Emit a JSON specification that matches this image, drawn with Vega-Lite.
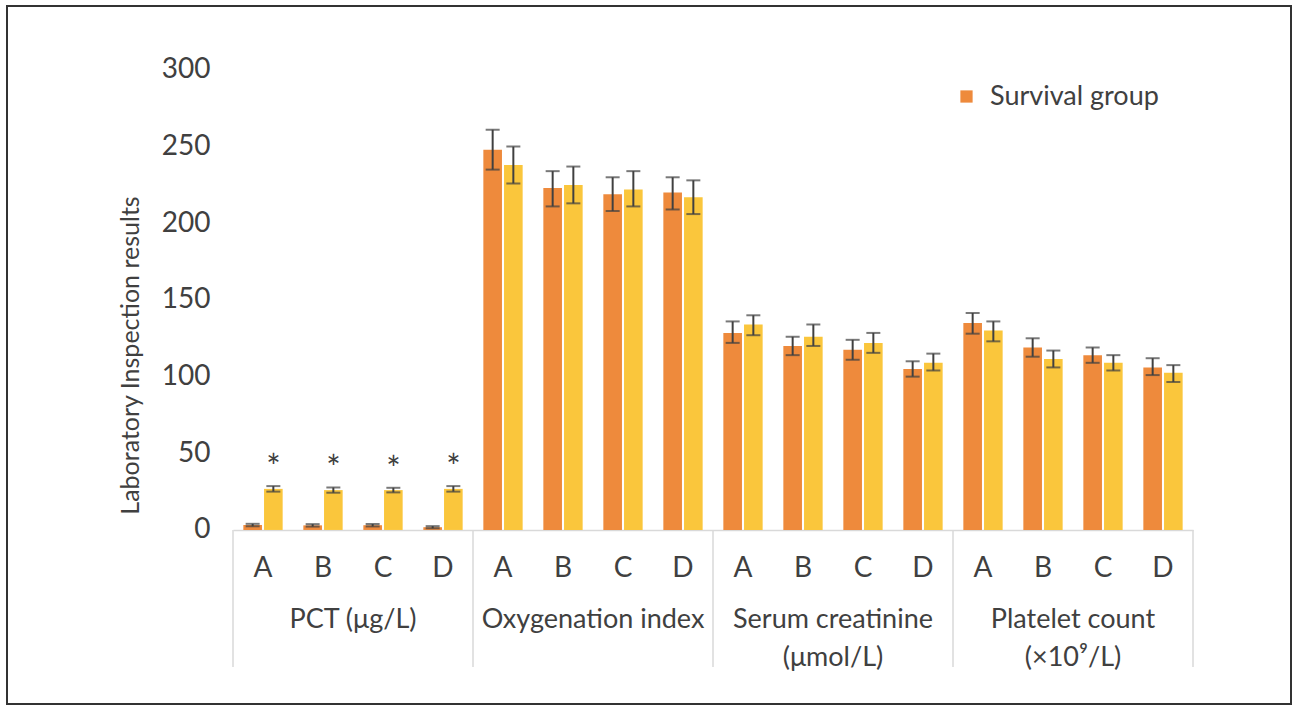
{
  "$schema": "https://vega.github.io/schema/vega-lite/v6.json",
  "width": 1284,
  "height": 698,
  "padding": {"left": 7, "top": 6, "right": 5, "bottom": 6},
  "background": "#ffffff",
  "config": {
    "view": {"stroke": "#333333", "strokeWidth": 2},
    "font": "Lato",
    "axis": {"labelFont": "Lato", "titleFont": "Lato", "labelColor": "#404040", "titleColor": "#404040"}
  },
  "datasets": {
    "bars": [
      {"cat": "PCT (μg/L)", "sub": "A", "slot": "PCT (μg/L)|A", "group": "Survival group", "value": 3.2, "lo": 2.4, "hi": 4.0},
      {"cat": "PCT (μg/L)", "sub": "A", "slot": "PCT (μg/L)|A", "group": "Death group", "value": 26.8, "lo": 25.0, "hi": 28.6},
      {"cat": "PCT (μg/L)", "sub": "B", "slot": "PCT (μg/L)|B", "group": "Survival group", "value": 3.0, "lo": 2.2, "hi": 3.8},
      {"cat": "PCT (μg/L)", "sub": "B", "slot": "PCT (μg/L)|B", "group": "Death group", "value": 26.0, "lo": 24.3, "hi": 27.7},
      {"cat": "PCT (μg/L)", "sub": "C", "slot": "PCT (μg/L)|C", "group": "Survival group", "value": 3.1, "lo": 2.3, "hi": 3.9},
      {"cat": "PCT (μg/L)", "sub": "C", "slot": "PCT (μg/L)|C", "group": "Death group", "value": 26.0, "lo": 24.5, "hi": 27.5},
      {"cat": "PCT (μg/L)", "sub": "D", "slot": "PCT (μg/L)|D", "group": "Survival group", "value": 1.8, "lo": 1.1, "hi": 2.5},
      {"cat": "PCT (μg/L)", "sub": "D", "slot": "PCT (μg/L)|D", "group": "Death group", "value": 26.8, "lo": 25.0, "hi": 28.6},
      {"cat": "Oxygenation index", "sub": "A", "slot": "Oxygenation index|A", "group": "Survival group", "value": 248, "lo": 235, "hi": 261},
      {"cat": "Oxygenation index", "sub": "A", "slot": "Oxygenation index|A", "group": "Death group", "value": 238, "lo": 226, "hi": 250},
      {"cat": "Oxygenation index", "sub": "B", "slot": "Oxygenation index|B", "group": "Survival group", "value": 223, "lo": 211, "hi": 234},
      {"cat": "Oxygenation index", "sub": "B", "slot": "Oxygenation index|B", "group": "Death group", "value": 225, "lo": 213, "hi": 237},
      {"cat": "Oxygenation index", "sub": "C", "slot": "Oxygenation index|C", "group": "Survival group", "value": 219, "lo": 208, "hi": 230},
      {"cat": "Oxygenation index", "sub": "C", "slot": "Oxygenation index|C", "group": "Death group", "value": 222, "lo": 211, "hi": 234},
      {"cat": "Oxygenation index", "sub": "D", "slot": "Oxygenation index|D", "group": "Survival group", "value": 220, "lo": 209, "hi": 230},
      {"cat": "Oxygenation index", "sub": "D", "slot": "Oxygenation index|D", "group": "Death group", "value": 217, "lo": 206, "hi": 228},
      {"cat": "Serum creatinine\n(μmol/L)", "sub": "A", "slot": "Serum creatinine (μmol/L)|A", "group": "Survival group", "value": 128.5, "lo": 122, "hi": 136},
      {"cat": "Serum creatinine\n(μmol/L)", "sub": "A", "slot": "Serum creatinine (μmol/L)|A", "group": "Death group", "value": 134, "lo": 127, "hi": 140},
      {"cat": "Serum creatinine\n(μmol/L)", "sub": "B", "slot": "Serum creatinine (μmol/L)|B", "group": "Survival group", "value": 120, "lo": 114, "hi": 126},
      {"cat": "Serum creatinine\n(μmol/L)", "sub": "B", "slot": "Serum creatinine (μmol/L)|B", "group": "Death group", "value": 126, "lo": 120, "hi": 134},
      {"cat": "Serum creatinine\n(μmol/L)", "sub": "C", "slot": "Serum creatinine (μmol/L)|C", "group": "Survival group", "value": 117.5, "lo": 111, "hi": 124},
      {"cat": "Serum creatinine\n(μmol/L)", "sub": "C", "slot": "Serum creatinine (μmol/L)|C", "group": "Death group", "value": 122, "lo": 115.5, "hi": 128.5},
      {"cat": "Serum creatinine\n(μmol/L)", "sub": "D", "slot": "Serum creatinine (μmol/L)|D", "group": "Survival group", "value": 105, "lo": 100, "hi": 110},
      {"cat": "Serum creatinine\n(μmol/L)", "sub": "D", "slot": "Serum creatinine (μmol/L)|D", "group": "Death group", "value": 109, "lo": 104, "hi": 115},
      {"cat": "Platelet count\n(×10⁹/L)", "sub": "A", "slot": "Platelet count (×10⁹/L)|A", "group": "Survival group", "value": 135, "lo": 128, "hi": 141.5},
      {"cat": "Platelet count\n(×10⁹/L)", "sub": "A", "slot": "Platelet count (×10⁹/L)|A", "group": "Death group", "value": 130, "lo": 123, "hi": 136},
      {"cat": "Platelet count\n(×10⁹/L)", "sub": "B", "slot": "Platelet count (×10⁹/L)|B", "group": "Survival group", "value": 119, "lo": 113, "hi": 125},
      {"cat": "Platelet count\n(×10⁹/L)", "sub": "B", "slot": "Platelet count (×10⁹/L)|B", "group": "Death group", "value": 111.5, "lo": 106, "hi": 117},
      {"cat": "Platelet count\n(×10⁹/L)", "sub": "C", "slot": "Platelet count (×10⁹/L)|C", "group": "Survival group", "value": 114, "lo": 109, "hi": 119},
      {"cat": "Platelet count\n(×10⁹/L)", "sub": "C", "slot": "Platelet count (×10⁹/L)|C", "group": "Death group", "value": 109, "lo": 104, "hi": 114},
      {"cat": "Platelet count\n(×10⁹/L)", "sub": "D", "slot": "Platelet count (×10⁹/L)|D", "group": "Survival group", "value": 106, "lo": 101, "hi": 112},
      {"cat": "Platelet count\n(×10⁹/L)", "sub": "D", "slot": "Platelet count (×10⁹/L)|D", "group": "Death group", "value": 102.5, "lo": 96.5, "hi": 107.5}
    ]
  },
  "data": {"name": "bars"},
  "layer": [
    {
      "mark": {"type": "bar"},
      "encoding": {
        "x": {
          "field": "slot",
          "type": "nominal",
          "sort": null,
          "scale": {"range": [226, 1186], "paddingInner": 0, "paddingOuter": 0},
          "axis": {
            "title": null,
            "orient": "bottom",
            "offset": -174,
            "labelExpr": "split(datum.value, '|')[1]",
            "labelAngle": 0,
            "labelFontSize": 28,
            "labelPadding": 24,
            "ticks": false,
            "domain": true,
            "domainColor": "#d9d9d9",
            "domainWidth": 1.5,
            "grid": false
          }
        },
        "xOffset": {
          "field": "group",
          "type": "nominal",
          "sort": ["Survival group", "Death group"],
          "scale": {"paddingInner": 0.1, "paddingOuter": 0.5}
        },
        "y": {
          "field": "value",
          "type": "quantitative",
          "scale": {"domain": [-113.5, 341.7], "nice": false, "zero": false},
          "axis": {
            "title": "Laboratory Inspection results",
            "titleFontSize": 25,
            "titleFontWeight": "normal",
            "titlePadding": 18,
            "values": [0, 50, 100, 150, 200, 250, 300],
            "labelFontSize": 28,
            "labelPadding": 12,
            "offset": -215,
            "ticks": false,
            "domain": false,
            "grid": false
          }
        },
        "y2": {"datum": 0},
        "color": {
          "field": "group",
          "type": "nominal",
          "scale": {"domain": ["Survival group", "Death group"], "range": ["#EE8A3C", "#FAC63C"]},
          "legend": {
            "values": ["Survival group"],
            "title": null,
            "orient": "none",
            "legendX": 946,
            "legendY": 77,
            "symbolType": "square",
            "symbolSize": 150,
            "symbolStrokeWidth": 0,
            "labelFontSize": 27,
            "labelFont": "Lato",
            "labelColor": "#404040",
            "labelOffset": 10,
            "labelLimit": 400,
            "padding": 0
          }
        }
      }
    },
    {
      "mark": {"type": "rule", "color": "#404040", "strokeWidth": 2},
      "encoding": {
        "x": {"field": "slot", "type": "nominal", "sort": null},
        "xOffset": {"field": "group", "type": "nominal", "sort": ["Survival group", "Death group"]},
        "y": {"field": "lo", "type": "quantitative"},
        "y2": {"field": "hi"}
      }
    },
    {
      "mark": {"type": "tick", "color": "#404040", "thickness": 2, "size": 14},
      "encoding": {
        "x": {"field": "slot", "type": "nominal", "sort": null},
        "xOffset": {"field": "group", "type": "nominal", "sort": ["Survival group", "Death group"]},
        "y": {"field": "lo", "type": "quantitative"}
      }
    },
    {
      "mark": {"type": "tick", "color": "#404040", "thickness": 2, "size": 14},
      "encoding": {
        "x": {"field": "slot", "type": "nominal", "sort": null},
        "xOffset": {"field": "group", "type": "nominal", "sort": ["Survival group", "Death group"]},
        "y": {"field": "hi", "type": "quantitative"}
      }
    },
    {
      "transform": [{"filter": "indexof(datum.slot, 'PCT') == 0 && datum.group == 'Death group'"}],
      "mark": {"type": "text", "text": "*", "fontSize": 34, "color": "#404040", "baseline": "top", "dy": -34},
      "encoding": {
        "x": {"field": "slot", "type": "nominal", "sort": null},
        "xOffset": {"field": "group", "type": "nominal", "sort": ["Survival group", "Death group"]},
        "y": {"field": "hi", "type": "quantitative"}
      }
    },
    {
      "transform": [{"filter": "datum.sub == 'A' && datum.group == 'Survival group'"}],
      "mark": {"type": "rule", "color": "#d9d9d9", "strokeWidth": 1.5},
      "encoding": {
        "x": {"field": "slot", "type": "nominal", "sort": null, "bandPosition": 0},
        "y": {"datum": 0},
        "y2": {"datum": -89.4}
      }
    },
    {
      "transform": [{"filter": "datum.sub == 'D' && datum.group == 'Survival group' && indexof(datum.slot, 'Platelet') == 0"}],
      "mark": {"type": "rule", "color": "#d9d9d9", "strokeWidth": 1.5},
      "encoding": {
        "x": {"field": "slot", "type": "nominal", "sort": null, "bandPosition": 1},
        "y": {"datum": 0},
        "y2": {"datum": -89.4}
      }
    },
    {
      "transform": [{"filter": "datum.sub == 'C' && datum.group == 'Survival group'"}],
      "mark": {"type": "text", "fontSize": 27, "color": "#404040", "baseline": "top", "align": "center", "lineBreak": "\n", "lineHeight": 38},
      "encoding": {
        "x": {"field": "slot", "type": "nominal", "sort": null, "bandPosition": 0},
        "y": {"datum": -50},
        "text": {"field": "cat"}
      }
    }
  ]
}
